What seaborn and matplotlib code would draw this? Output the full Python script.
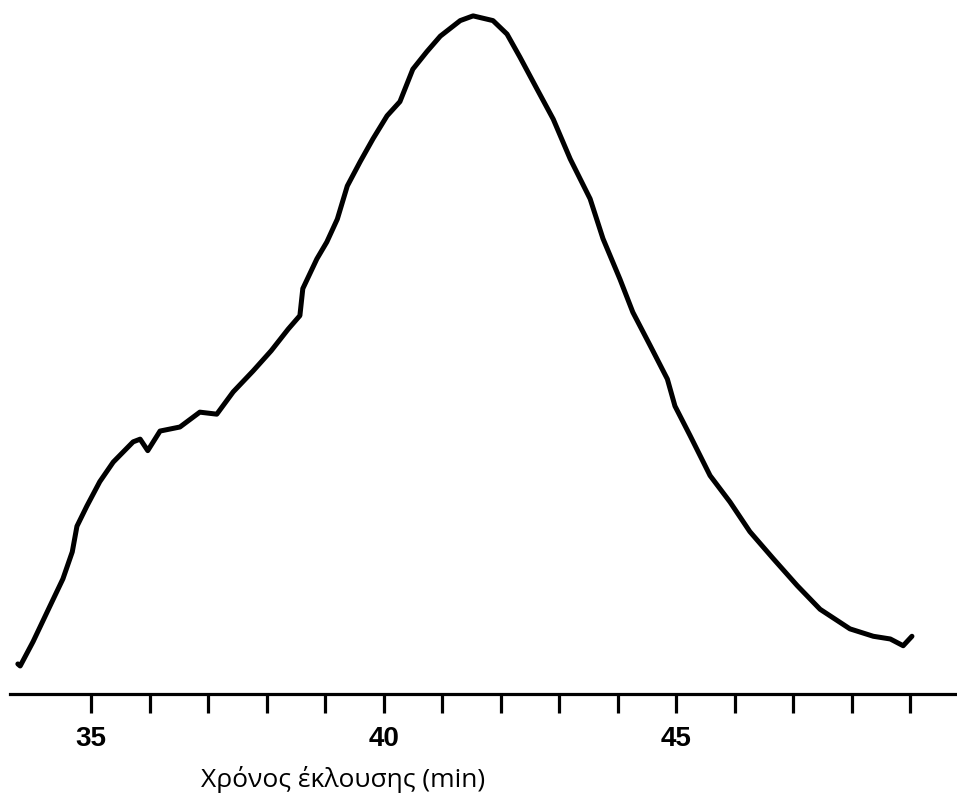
import matplotlib
matplotlib.use("Agg")
import matplotlib.pyplot as plt
import seaborn as sns
import pandas as pd

# Elution profile: time (min) and detector response (relative units)
elution_time = [33.75, 33.79, 34.01, 34.30, 34.52, 34.68, 34.76, 34.93, 35.15, 35.38,
                35.72, 35.84, 35.97, 36.18, 36.52, 36.86, 37.15, 37.43, 37.77, 38.08,
                38.37, 38.57, 38.62, 38.86, 39.03, 39.21, 39.38, 39.60, 39.82, 40.06,
                40.28, 40.50, 40.74, 40.97, 41.31, 41.53, 41.87, 42.11, 42.33, 42.62,
                42.90, 43.19, 43.53, 43.75, 44.04, 44.26, 44.56, 44.85, 44.98, 45.24,
                45.58, 45.92, 46.26, 46.66, 47.07, 47.46, 47.97, 48.37, 48.66, 48.88,
                49.03]
response = [4.0, 3.7, 7.3, 12.6, 16.6, 20.6, 24.4, 27.4, 31.0, 33.9,
            36.9, 37.3, 35.6, 38.5, 39.1, 41.3, 41.0, 44.3, 47.4, 50.4,
            53.6, 55.6, 59.6, 64.0, 66.5, 69.9, 74.8, 78.4, 81.8, 85.2,
            87.3, 92.1, 94.7, 97.0, 99.3, 100.0, 99.3, 97.3, 93.9, 89.2,
            84.7, 78.8, 72.9, 67.0, 61.0, 56.1, 51.1, 46.2, 42.2, 37.8,
            31.9, 28.0, 23.6, 19.6, 15.6, 12.1, 9.2, 8.1, 7.7, 6.7,
            8.1]

tick_minutes = list(range(35, 50))
tick_labels = ["35", "", "", "", "", "40", "", "", "", "", "45", "", "", "", ""]
x_label = "Χρόνος έκλουσης (min)"

df = pd.DataFrame({"t": elution_time, "signal": response})

sns.set_style("white")
plt.rcParams["font.family"] = ["Liberation Sans", "DejaVu Sans"]
plt.rcParams["text.color"] = "black"
plt.rcParams["xtick.color"] = "black"
plt.rcParams["axes.labelcolor"] = "black"

fig = plt.figure(figsize=(9.57, 8.03), dpi=100)
ax = fig.add_axes([0.0104, 0.1345, 0.9896, 0.8655])

sns.lineplot(data=df, x="t", y="signal", ax=ax, color="black",
             linewidth=3.6, solid_joinstyle="round", solid_capstyle="round")

ax.set_xlim(33.615, 49.80)
ax.set_ylim(-0.45, 102.5)

for side in ("left", "top", "right"):
    ax.spines[side].set_visible(False)
ax.spines["bottom"].set_linewidth(2.3)
ax.spines["bottom"].set_color("black")

ax.set_yticks([])
ax.set_xticks(tick_minutes)
ax.set_xticklabels(tick_labels, fontsize=20, fontweight="bold", color="black",
                   family=["Liberation Sans", "DejaVu Sans"])
ax.tick_params(axis="x", direction="out", length=13.5, width=2.3,
               color="black", labelcolor="black", pad=9, bottom=True)

ax.set_xlabel(x_label, fontsize=19, color="black",
              family=["Open Sans", "DejaVu Sans"], labelpad=10)
ax.xaxis.label.set_x(0.352)
ax.set_ylabel("")

fig.savefig("out.png", dpi=100, facecolor="white")
